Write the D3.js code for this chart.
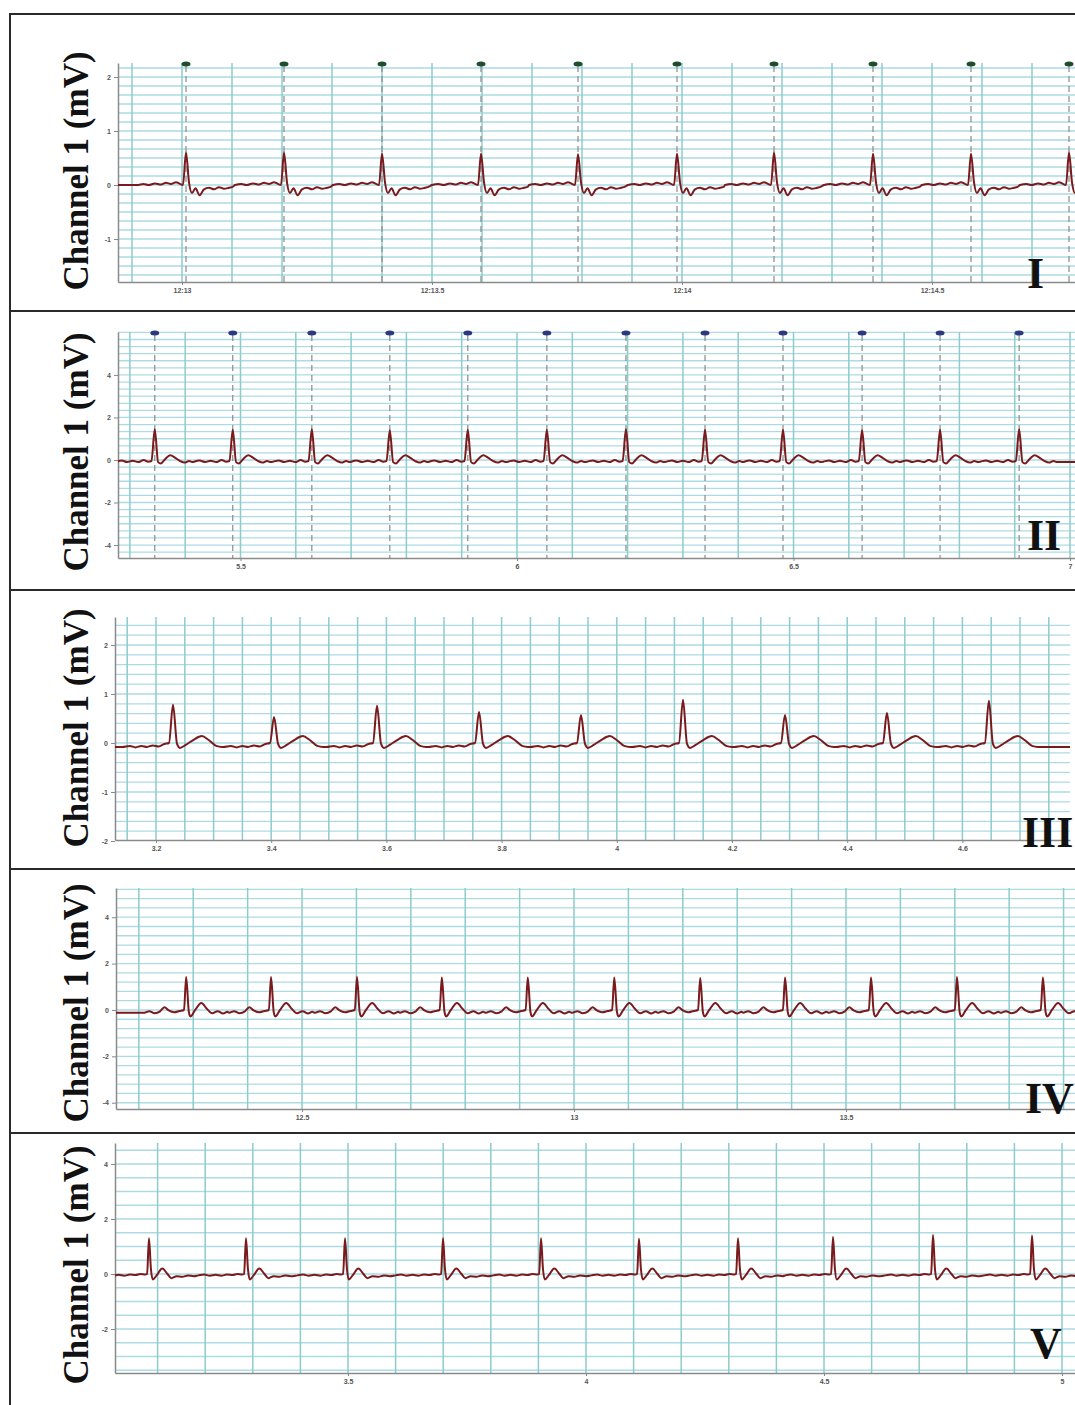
<!DOCTYPE html>
<html>
<head>
<meta charset="utf-8">
<script src="https://cdn.jsdelivr.net/npm/d3@7"></script>
<style>
	body { margin: 0; background: #fff; }
	.tick text { font-family: "Liberation Sans", Arial, sans-serif; font-size: 7px; font-weight: bold; fill: #555; }
	.tick line { stroke: #888; }
	.domain { stroke: #8a8a8a; stroke-width: 1.5; }
</style>
</head>
<body>
<script>

// ---- panel I ----
var xTicksI = [0, 0.5, 1, 1.5];
var xLabelsI = ["12:13", "12:13.5", "12:14", "12:14.5"];
var yTicksI = [-1, 0, 1, 2];
var xDomainI = [-0.128, 1.786];
var yDomainI = [-1.796, 2.259];
var beatsI = [0.008, 0.204, 0.400, 0.598, 0.792, 0.990, 1.184, 1.382, 1.578, 1.774];
var ampsI = [0.60, 0.60, 0.58, 0.58, 0.57, 0.58, 0.60, 0.58, 0.58, 0.60];
// one beat: [seconds from R, mV], "R" = peak of that beat
var shapeI = [[-0.098, 0.00], [-0.085, 0.02], [-0.075, 0.00], [-0.062, 0.03], [-0.050, 0.01],
	[-0.040, 0.04], [-0.030, 0.02], [-0.020, 0.05], [-0.012, 0.02], [-0.006, 0.00], [0, "R"],
	[0.006, 0.05], [0.012, -0.15], [0.019, -0.06], [0.027, -0.19], [0.036, -0.08], [0.046, -0.05],
	[0.056, -0.08], [0.066, -0.04], [0.076, -0.07], [0.086, -0.05], [0.094, -0.03]];

// ---- panel II ----
var xTicksII = [5.5, 6, 6.5, 7];
var xLabelsII = ["5.5", "6", "6.5", "7"];
var yTicksII = [-4, -2, 0, 2, 4];
var xDomainII = [5.2785, 7.009];
var yDomainII = [-4.61, 6.02];
var beatsII = [5.345, 5.486, 5.629, 5.770, 5.911, 6.054, 6.197, 6.340, 6.481, 6.624, 6.765, 6.908];
var ampsII = [1.45, 1.42, 1.45, 1.40, 1.42, 1.42, 1.45, 1.42, 1.42, 1.40, 1.42, 1.45];
var shapeII = [[-0.070, -0.08], [-0.060, -0.02], [-0.050, -0.10], [-0.040, -0.03], [-0.030, -0.10],
	[-0.020, 0.00], [-0.012, -0.08], [-0.006, -0.05], [0, "R"], [0.006, -0.10], [0.011, -0.16],
	[0.019, 0.05], [0.028, 0.22], [0.037, 0.10], [0.046, -0.05], [0.054, -0.12], [0.062, -0.05],
	[0.069, -0.10]];

// ---- panel III ----
var xTicksIII = [3.2, 3.4, 3.6, 3.8, 4, 4.2, 4.4, 4.6];
var xLabelsIII = ["3.2", "3.4", "3.6", "3.8", "4", "4.2", "4.4", "4.6"];
var yTicksIII = [-2, -1, 0, 1, 2];
var xDomainIII = [3.1288, 4.7868];
var yDomainIII = [-1.98, 2.571];
var beatsIII = [3.2295, 3.4049, 3.5837, 3.7608, 3.9378, 4.1149, 4.2920, 4.4690, 4.6460];
var ampsIII = [0.78, 0.53, 0.76, 0.63, 0.57, 0.88, 0.57, 0.61, 0.86];
var shapeIII = [[-0.088, -0.08], [-0.075, -0.06], [-0.065, -0.09], [-0.055, -0.06], [-0.045, -0.08],
	[-0.035, -0.05], [-0.025, -0.07], [-0.015, -0.02], [-0.007, 0.00], [0, "R"], [0.007, -0.02],
	[0.012, -0.10], [0.022, -0.04], [0.035, 0.06], [0.050, 0.14], [0.062, 0.06], [0.075, -0.06],
	[0.085, -0.08]];

// ---- panel IV ----
var xTicksIV = [12.5, 13, 13.5];
var xLabelsIV = ["12.5", "13", "13.5"];
var yTicksIV = [-4, -2, 0, 2, 4];
var xDomainIV = [12.158, 13.921];
var yDomainIV = [-4.27, 5.26];
var beatsIV = [12.287, 12.443, 12.601, 12.757, 12.915, 13.074, 13.232, 13.388, 13.546, 13.704, 13.862];
var ampsIV = [1.42, 1.42, 1.42, 1.40, 1.40, 1.40, 1.38, 1.40, 1.40, 1.42, 1.40];
var shapeIV = [[-0.077, -0.12], [-0.068, -0.05], [-0.058, -0.14], [-0.048, -0.06], [-0.040, 0.12],
	[-0.032, -0.02], [-0.022, -0.10], [-0.012, -0.04], [-0.004, 0.00], [0, "R"], [0.005, -0.10],
	[0.008, -0.28], [0.016, -0.02], [0.028, 0.30], [0.038, 0.05], [0.048, -0.14], [0.058, -0.05],
	[0.068, -0.15], [0.076, -0.08]];

// ---- panel V ----
var xTicksV = [3.5, 4, 4.5, 5];
var xLabelsV = ["3.5", "4", "4.5", "5"];
var yTicksV = [-2, 0, 2, 4];
var xDomainV = [3.0105, 5.0273];
var yDomainV = [-3.6, 4.764];
var beatsV = [3.0819, 3.2857, 3.4937, 3.6996, 3.9055, 4.1113, 4.3193, 4.5189, 4.7290, 4.9370];
var ampsV = [1.30, 1.30, 1.30, 1.30, 1.30, 1.28, 1.30, 1.35, 1.42, 1.40];
var shapeV = [[-0.100, -0.05], [-0.088, -0.02], [-0.076, -0.06], [-0.064, -0.03], [-0.052, -0.06],
	[-0.040, -0.02], [-0.028, -0.04], [-0.018, 0.00], [-0.008, -0.02], [-0.004, 0.00], [0, "R"],
	[0.004, 0.20], [0.008, -0.20], [0.016, -0.05], [0.028, 0.20], [0.038, 0.02], [0.047, -0.15],
	[0.058, -0.08], [0.070, -0.10], [0.082, -0.05], [0.094, -0.08]];

var panelNames = ["I", "II", "III", "IV", "V"];

// page geometry
var W = 1075, H = 1405;
var frameY = [14, 311, 590, 869, 1133];
var layout = [
	{top: 63, bottom: 282, left: 118, right: 1075, titleY: 171, labelX: 1027, labelY: 288, gx: 0.1, gy: 1 / 6, marker: "#1e4d2e"},
	{top: 332, bottom: 558, left: 118, right: 1075, titleY: 452, labelX: 1027, labelY: 550, gx: 0.1, gy: 1 / 3, marker: "#2a3a80"},
	{top: 617, bottom: 840, left: 115, right: 1070, titleY: 728, labelX: 1022, labelY: 847, gx: 0.05, gy: 0.2, marker: null},
	{top: 888, bottom: 1109, left: 116, right: 1075, titleY: 1003, labelX: 1025, labelY: 1113, gx: 0.1, gy: 0.4, marker: null},
	{top: 1143, bottom: 1373, left: 115, right: 1075, titleY: 1265, labelX: 1030, labelY: 1358, gx: 0.1, gy: 0.5, marker: null}
];

var panels = [
	{xDomain: xDomainI, yDomain: yDomainI, xTicks: xTicksI, xLabels: xLabelsI, yTicks: yTicksI, beats: beatsI, amps: ampsI, shape: shapeI},
	{xDomain: xDomainII, yDomain: yDomainII, xTicks: xTicksII, xLabels: xLabelsII, yTicks: yTicksII, beats: beatsII, amps: ampsII, shape: shapeII},
	{xDomain: xDomainIII, yDomain: yDomainIII, xTicks: xTicksIII, xLabels: xLabelsIII, yTicks: yTicksIII, beats: beatsIII, amps: ampsIII, shape: shapeIII},
	{xDomain: xDomainIV, yDomain: yDomainIV, xTicks: xTicksIV, xLabels: xLabelsIV, yTicks: yTicksIV, beats: beatsIV, amps: ampsIV, shape: shapeIV},
	{xDomain: xDomainV, yDomain: yDomainV, xTicks: xTicksV, xLabels: xLabelsV, yTicks: yTicksV, beats: beatsV, amps: ampsV, shape: shapeV}
];

var svg = d3.select("body").append("svg")
	.attr("width", W)
	.attr("height", H);

// lay the beat shape at each beat time
function buildTrace(p) {
	var pts = [];
	p.beats.forEach(function(t0, j) {
		p.shape.forEach(function(s) {
			pts.push([t0 + s[0], s[1] === "R" ? p.amps[j] : s[1]]);
		});
	});
	pts.sort(function(a, b) { return a[0] - b[0]; });
	pts.unshift([p.xDomain[0] - 0.05, pts[0][1]]);
	pts.push([p.xDomain[1] + 0.05, pts[pts.length - 1][1]]);
	return pts;
}

function gridValues(domain, step) {
	var k0 = Math.ceil(domain[0] / step - 1e-6),
		k1 = Math.floor(domain[1] / step + 1e-6);
	return d3.range(k0, k1 + 1).map(function(k) { return k * step; });
}

function drawPanel(p, L, i) {
	var x = d3.scaleLinear().domain(p.xDomain).range([L.left, L.right]);
	var y = d3.scaleLinear().domain(p.yDomain).range([L.bottom, L.top]);

	svg.append("clipPath").attr("id", "clip" + i)
		.append("rect")
			.attr("x", L.left).attr("y", L.top - 2)
			.attr("width", L.right - L.left).attr("height", L.bottom - L.top + 2);

	var g = svg.append("g");

	// horizontal grid
	g.selectAll(".hgrid")
		.data(gridValues(p.yDomain, L.gy))
		.enter().append("line")
			.attr("class", "hgrid")
			.attr("x1", L.left).attr("x2", L.right)
			.attr("y1", function(d) { return y(d); })
			.attr("y2", function(d) { return y(d); })
			.attr("stroke", "#addbe4")
			.attr("stroke-width", 1.3);

	// vertical grid
	g.selectAll(".vgrid")
		.data(gridValues(p.xDomain, L.gx))
		.enter().append("line")
			.attr("class", "vgrid")
			.attr("y1", L.top).attr("y2", L.bottom)
			.attr("x1", function(d) { return x(d); })
			.attr("x2", function(d) { return x(d); })
			.attr("stroke", "#8ccccc")
			.attr("stroke-width", 1.5);

	// beat markers (dashed lines + dots) where the recorder drew them
	if (L.marker) {
		g.selectAll(".bline")
			.data(p.beats)
			.enter().append("line")
				.attr("class", "bline")
				.attr("y1", L.top + 3).attr("y2", L.bottom)
				.attr("x1", function(d) { return x(d); })
				.attr("x2", function(d) { return x(d); })
				.attr("stroke", "#8a8a8a")
				.attr("stroke-width", 1.2)
				.attr("stroke-dasharray", "6,4");
		g.selectAll(".bdot")
			.data(p.beats)
			.enter().append("ellipse")
				.attr("class", "bdot")
				.attr("cx", function(d) { return x(d); })
				.attr("cy", L.top + 1)
				.attr("rx", 4.5).attr("ry", 2.5)
				.attr("fill", L.marker);
	}

	// axes
	svg.append("g")
		.attr("transform", "translate(" + L.left + ",0)")
		.call(d3.axisLeft(y).tickValues(p.yTicks).tickSize(4).tickSizeOuter(0)
			.tickFormat(function(d) { return String(d); }));
	svg.append("g")
		.attr("transform", "translate(0," + L.bottom + ")")
		.call(d3.axisBottom(x).tickValues(p.xTicks).tickSize(3).tickSizeOuter(0)
			.tickFormat(function(d, j) { return p.xLabels[j]; }));

	// ECG trace
	var line = d3.line()
		.x(function(d) { return x(d[0]); })
		.y(function(d) { return y(d[1]); })
		.curve(d3.curveMonotoneX);
	svg.append("path")
		.datum(buildTrace(p))
		.attr("clip-path", "url(#clip" + i + ")")
		.attr("d", line)
		.attr("fill", "none")
		.attr("stroke", "#7a1a1c")
		.attr("stroke-width", 2)
		.attr("stroke-linejoin", "round");

	// y title
	svg.append("text")
		.attr("transform", "translate(88," + L.titleY + ") rotate(-90)")
		.attr("text-anchor", "middle")
		.style("font-family", "'Liberation Serif', 'Times New Roman', serif")
		.style("font-weight", "bold")
		.style("font-size", "35px")
		.attr("fill", "#111")
		.text("Channel 1 (mV)");

	// panel number
	svg.append("text")
		.attr("x", L.labelX).attr("y", L.labelY)
		.style("font-family", "'Liberation Serif', 'Times New Roman', serif")
		.style("font-weight", "bold")
		.style("font-size", "44px")
		.attr("fill", "#111")
		.text(panelNames[i]);
}

panels.forEach(function(p, i) { drawPanel(p, layout[i], i); });

// frame round the panels
svg.selectAll(".frame")
	.data(frameY)
	.enter().append("line")
		.attr("class", "frame")
		.attr("x1", 9).attr("x2", W)
		.attr("y1", function(d) { return d; })
		.attr("y2", function(d) { return d; })
		.attr("stroke", "#2a2a2a")
		.attr("stroke-width", 2);
svg.append("line")
	.attr("x1", 10).attr("x2", 10)
	.attr("y1", frameY[0]).attr("y2", H)
	.attr("stroke", "#2a2a2a")
	.attr("stroke-width", 2);

</script>
</body>
</html>
